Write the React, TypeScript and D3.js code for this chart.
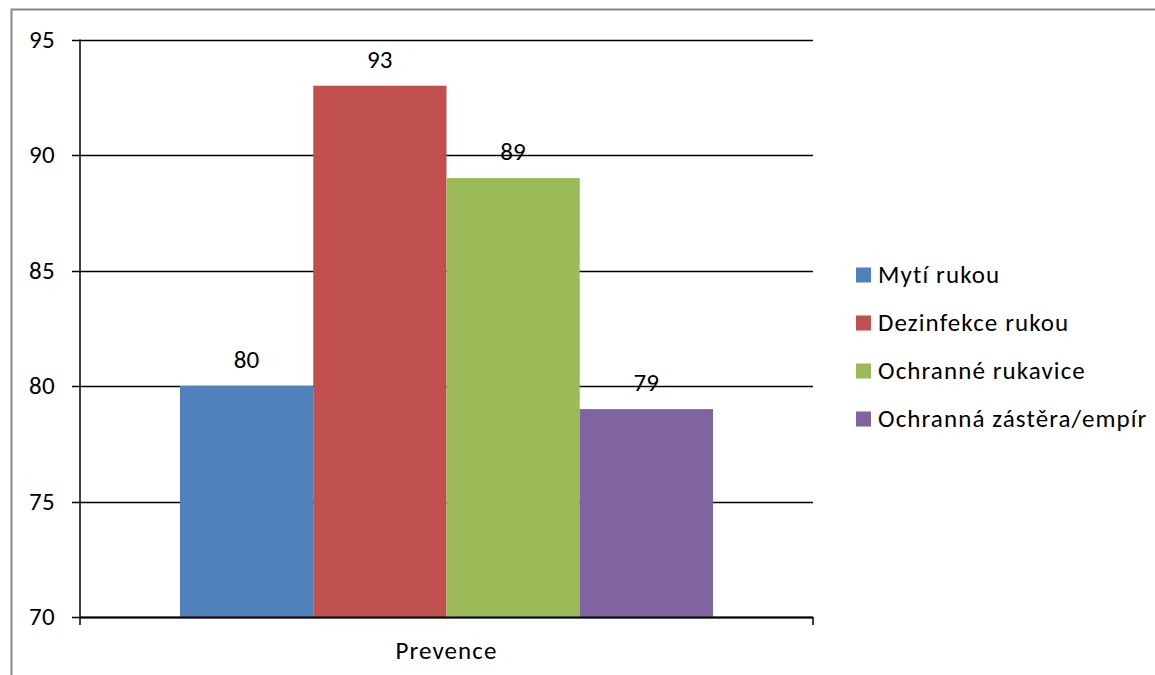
import React from "react";
import * as d3 from "d3";

const categories = ["Prevence"];
const seriesNames = ["Mytí rukou", "Dezinfekce rukou", "Ochranné rukavice", "Ochranná zástěra/empír"];
const seriesValues = [80, 93, 89, 79];
const seriesColors = ["#4F81BD", "#C0504D", "#9BBB59", "#8064A2"];
const yTicks = [70, 75, 80, 85, 90, 95];

const W = 1155;
const H = 675;
const FONT = "Carlito, Calibri, Lato, 'Open Sans', sans-serif";
const FS = 25;

export default function App() {
  const left = 80;
  const right = 813;
  const top = 39.5;
  const bottom = 617;

  const y = d3.scaleLinear().domain([70, 95]).range([bottom, top]);
  const x0 = d3.scaleBand<string>().domain(categories).range([left, right]).paddingInner(0).paddingOuter(0);
  const groupPad = 100;
  const x1 = d3
    .scaleBand<string>()
    .domain(seriesNames)
    .range([groupPad, x0.bandwidth() - groupPad])
    .padding(0);

  return (
    <svg width={W} height={H} style={{ position: "absolute", left: 0, top: 0 }} fontFamily={FONT}>
      <rect x={0} y={0} width={W} height={H} fill="#fff" />
      {/* chart frame */}
      <rect x={11.5} y={9.5} width={W + 20} height={H + 20} fill="none" stroke="#888" strokeWidth={2} />

      {/* grid lines and y tick labels */}
      {yTicks.map((t) => (
        <g key={t}>
          <line x1={left - 8} x2={right} y1={Math.round(y(t)) + 0.5} y2={Math.round(y(t)) + 0.5} stroke="#000" strokeWidth={1.5} />
          <text x={55} y={y(t)} dy="0.33em" textAnchor="end" fontSize={FS} letterSpacing={0.3} fill="#000">
            {t}
          </text>
        </g>
      ))}

      {/* bars */}
      {categories.map((c) => (
        <g key={c} transform={`translate(${x0(c)},0)`}>
          {seriesNames.map((s, i) => (
            <g key={s}>
              <rect
                x={x1(s)}
                y={y(seriesValues[i])}
                width={x1.bandwidth()}
                height={bottom - y(seriesValues[i])}
                fill={seriesColors[i]}
              />
              <text
                x={(x1(s) as number) + x1.bandwidth() / 2}
                y={y(seriesValues[i]) - 18}
                textAnchor="middle"
                fontSize={FS}
                letterSpacing={0.3}
                fill="#000"
              >
                {seriesValues[i]}
              </text>
            </g>
          ))}
        </g>
      ))}

      {/* axes */}
      <line x1={left} x2={left} y1={top} y2={bottom + 8} stroke="#000" strokeWidth={1.5} />
      <line x1={left} x2={right} y1={bottom + 0.5} y2={bottom + 0.5} stroke="#000" strokeWidth={2} />
      <line x1={right} x2={right} y1={bottom} y2={bottom + 8} stroke="#000" strokeWidth={1.5} />
      {categories.map((c) => (
        <text
          key={c}
          x={(x0(c) as number) + x0.bandwidth() / 2}
          y={659}
          textAnchor="middle"
          fontSize={FS}
          letterSpacing={1.1}
          fill="#000"
        >
          {c}
        </text>
      ))}

      {/* legend */}
      {seriesNames.map((s, i) => (
        <g key={s} transform={`translate(856,${275 + i * 48})`}>
          <rect x={0} y={-7.5} width={15} height={15} fill={seriesColors[i]} />
          <text x={22} y={0} dy="0.33em" fontSize={FS} letterSpacing={1.1} fill="#000">
            {s}
          </text>
        </g>
      ))}
    </svg>
  );
}
